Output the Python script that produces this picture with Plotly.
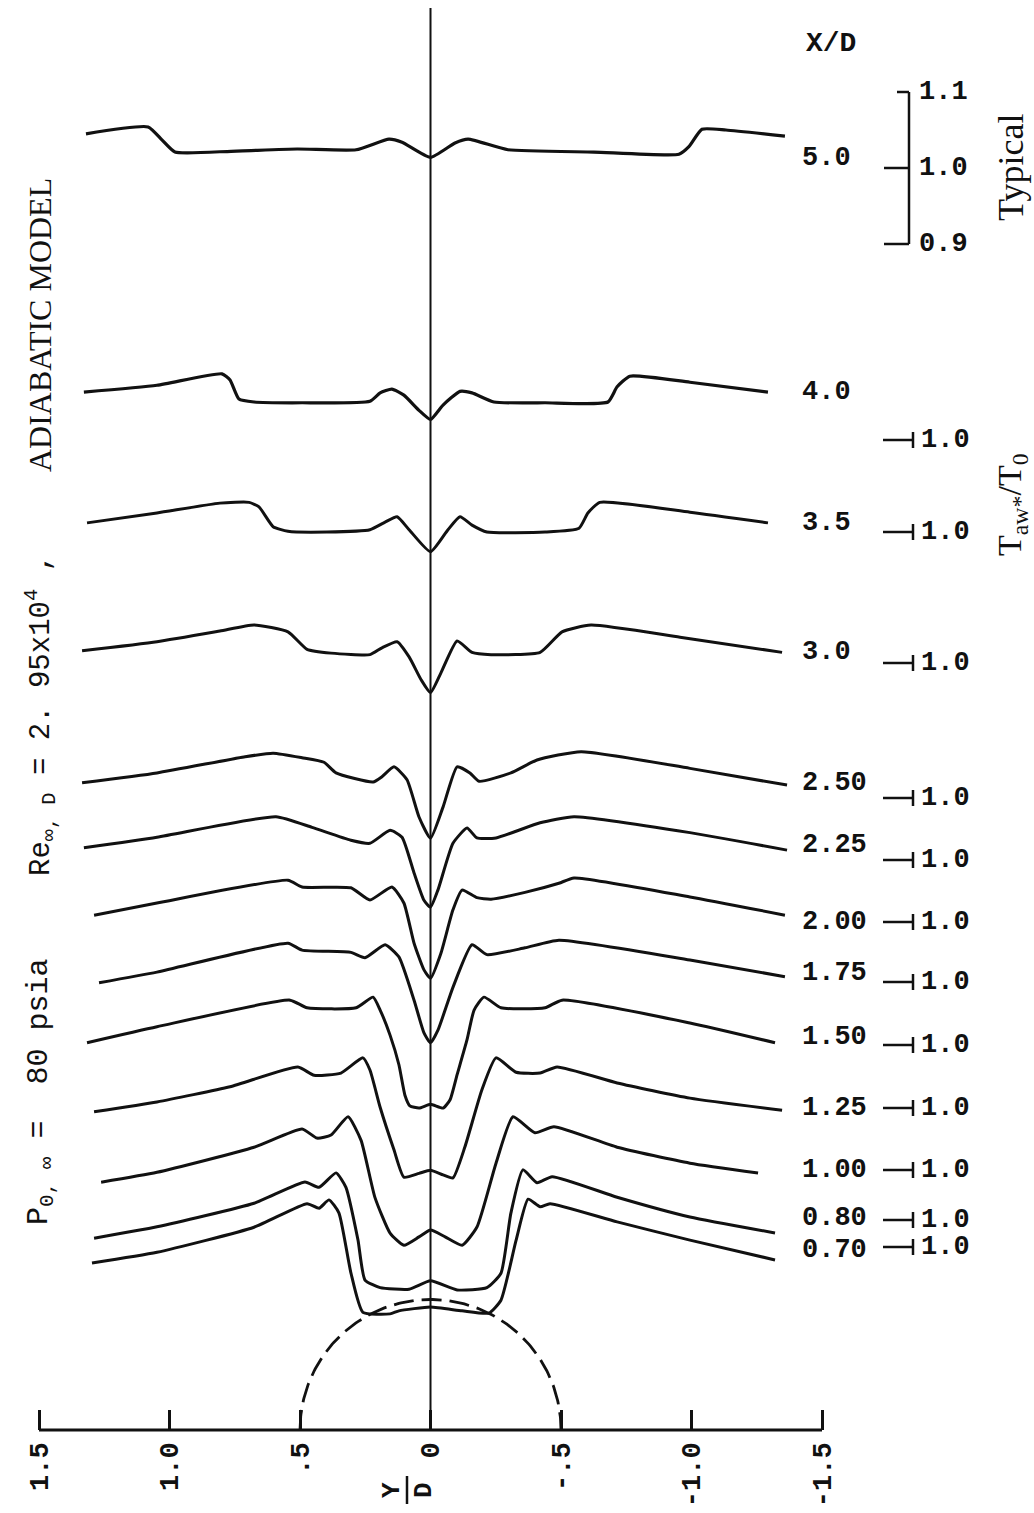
import numpy as np
import plotly.graph_objects as go

# ---------------- data ----------------
stations = ["5.0", "4.0", "3.5", "3.0", "2.50", "2.25", "2.00", "1.75", "1.50", "1.25", "1.00", "0.80", "0.70"]

yd_500 = [1.320, 1.082, 1.029, 0.979, 0.764, 0.511, 0.285, 0.159, 0.109, 0.0, -0.094, -0.144, -0.297, -0.626, -0.952, -0.990, -1.040, -1.132, -1.358]
t_500 = [1.045, 1.054, 1.037, 1.021, 1.022, 1.025, 1.024, 1.038, 1.034, 1.014, 1.033, 1.038, 1.024, 1.021, 1.018, 1.028, 1.051, 1.050, 1.042]

yd_400 = [1.328, 1.048, 0.799, 0.768, 0.734, 0.676, 0.492, 0.232, 0.193, 0.148, 0.102, 0.044, 0.0, -0.048, -0.113, -0.159, -0.243, -0.439, -0.680, -0.715, -0.764, -0.994, -1.293]
t_400 = [1.063, 1.072, 1.087, 1.079, 1.054, 1.050, 1.049, 1.051, 1.062, 1.067, 1.059, 1.039, 1.027, 1.046, 1.064, 1.062, 1.050, 1.049, 1.050, 1.070, 1.084, 1.076, 1.063]

yd_350 = [1.316, 1.048, 0.807, 0.695, 0.657, 0.603, 0.546, 0.397, 0.232, 0.174, 0.128, 0.082, 0.0, -0.067, -0.113, -0.159, -0.216, -0.439, -0.569, -0.603, -0.649, -0.994, -1.293]
t_350 = [1.012, 1.025, 1.038, 1.039, 1.033, 1.007, 1.001, 1.000, 1.003, 1.013, 1.020, 1.003, 0.974, 1.003, 1.020, 1.009, 1.000, 1.000, 1.005, 1.025, 1.039, 1.026, 1.012]

yd_300 = [1.335, 1.048, 0.807, 0.676, 0.546, 0.473, 0.381, 0.232, 0.186, 0.128, 0.082, 0.036, 0.0, -0.040, -0.102, -0.159, -0.232, -0.420, -0.504, -0.615, -0.956, -1.347]
t_300 = [1.016, 1.028, 1.042, 1.050, 1.041, 1.018, 1.013, 1.011, 1.020, 1.028, 1.008, 0.978, 0.961, 0.987, 1.029, 1.014, 1.011, 1.014, 1.041, 1.050, 1.034, 1.014]

yd_250 = [1.335, 1.048, 0.715, 0.603, 0.492, 0.408, 0.362, 0.220, 0.186, 0.140, 0.090, 0.044, 0.0, -0.048, -0.102, -0.151, -0.186, -0.308, -0.408, -0.577, -0.994, -1.366]
t_250 = [1.020, 1.033, 1.054, 1.059, 1.053, 1.047, 1.033, 1.021, 1.028, 1.041, 1.024, 0.975, 0.947, 0.988, 1.041, 1.033, 1.022, 1.033, 1.050, 1.061, 1.039, 1.017]

yd_225 = [1.328, 1.048, 0.592, 0.454, 0.305, 0.232, 0.155, 0.109, 0.063, 0.025, 0.0, -0.029, -0.086, -0.140, -0.178, -0.251, -0.420, -0.550, -0.994, -1.366]
t_225 = [1.016, 1.030, 1.057, 1.043, 1.026, 1.022, 1.039, 1.030, 0.983, 0.947, 0.938, 0.961, 1.022, 1.042, 1.029, 1.029, 1.049, 1.057, 1.036, 1.013]

yd_200 = [1.289, 1.048, 0.546, 0.492, 0.305, 0.232, 0.148, 0.102, 0.063, 0.025, 0.0, -0.040, -0.086, -0.121, -0.178, -0.232, -0.362, -0.492, -0.550, -0.994, -1.358]
t_200 = [1.009, 1.025, 1.055, 1.046, 1.045, 1.029, 1.046, 1.025, 0.972, 0.937, 0.926, 0.959, 1.016, 1.042, 1.032, 1.030, 1.039, 1.051, 1.058, 1.033, 1.009]

yd_175 = [1.270, 1.048, 0.546, 0.492, 0.305, 0.251, 0.174, 0.121, 0.063, 0.025, 0.0, -0.029, -0.086, -0.159, -0.216, -0.362, -0.492, -0.994, -1.358]
t_175 = [0.999, 1.013, 1.051, 1.042, 1.039, 1.032, 1.049, 1.033, 0.976, 0.933, 0.920, 0.937, 0.993, 1.049, 1.036, 1.045, 1.055, 1.029, 1.007]

yd_150 = [1.316, 1.048, 0.538, 0.473, 0.285, 0.220, 0.193, 0.155, 0.121, 0.098, 0.079, 0.044, 0.0, -0.048, -0.075, -0.102, -0.140, -0.167, -0.205, -0.270, -0.439, -0.504, -0.994, -1.320]
t_150 = [1.003, 1.024, 1.059, 1.049, 1.049, 1.063, 1.046, 1.013, 0.974, 0.934, 0.920, 0.917, 0.922, 0.917, 0.928, 0.961, 1.007, 1.046, 1.063, 1.049, 1.049, 1.059, 1.029, 1.003]

yd_125 = [1.289, 1.048, 0.768, 0.508, 0.446, 0.343, 0.259, 0.232, 0.193, 0.140, 0.102, 0.044, 0.0, -0.048, -0.086, -0.132, -0.197, -0.251, -0.328, -0.420, -0.485, -0.715, -0.994, -1.347]
t_125 = [0.995, 1.008, 1.028, 1.054, 1.043, 1.046, 1.066, 1.050, 1.001, 0.945, 0.909, 0.914, 0.918, 0.912, 0.908, 0.949, 1.024, 1.066, 1.047, 1.046, 1.054, 1.033, 1.013, 0.997]

yd_100 = [1.262, 1.048, 0.676, 0.492, 0.435, 0.381, 0.316, 0.266, 0.213, 0.155, 0.102, 0.044, 0.0, -0.056, -0.121, -0.178, -0.251, -0.316, -0.400, -0.473, -0.715, -0.994, -1.255]
t_100 = [0.984, 0.997, 1.030, 1.054, 1.042, 1.046, 1.070, 1.039, 0.964, 0.917, 0.901, 0.912, 0.921, 0.912, 0.901, 0.925, 1.009, 1.070, 1.049, 1.057, 1.030, 1.009, 0.996]

yd_080 = [1.289, 1.048, 0.676, 0.481, 0.427, 0.362, 0.324, 0.278, 0.251, 0.193, 0.082, 0.0, -0.102, -0.216, -0.270, -0.308, -0.354, -0.408, -0.466, -0.715, -0.994, -1.320]
t_080 = [0.976, 0.991, 1.022, 1.050, 1.043, 1.062, 1.043, 0.974, 0.921, 0.911, 0.909, 0.920, 0.908, 0.911, 0.930, 1.009, 1.066, 1.049, 1.057, 1.030, 1.004, 0.983]

yd_070 = [1.297, 1.048, 0.676, 0.473, 0.427, 0.389, 0.351, 0.305, 0.259, 0.155, 0.121, 0.0, -0.121, -0.224, -0.270, -0.328, -0.374, -0.420, -0.458, -0.715, -0.994, -1.320]
t_070 = [0.979, 0.993, 1.026, 1.057, 1.051, 1.062, 1.045, 0.966, 0.914, 0.912, 0.916, 0.921, 0.916, 0.913, 0.930, 1.009, 1.063, 1.053, 1.057, 1.033, 1.009, 0.983]

profiles_yd = [yd_500, yd_400, yd_350, yd_300, yd_250, yd_225, yd_200, yd_175, yd_150, yd_125, yd_100, yd_080, yd_070]
profiles_t = [t_500, t_400, t_350, t_300, t_250, t_225, t_200, t_175, t_150, t_125, t_100, t_080, t_070]

yd_ticks = [1.5, 1.0, 0.5, 0.0, -0.5, -1.0, -1.5]
yd_ticktext = ["1.5", "1.0", ".5", "0", "-.5", "-1.0", "-1.5"]
typical_scale = [1.1, 1.0, 0.9]

# ---------------- layout geometry (page pixels) ----------------
W, H = 1034, 1513
PX_PER_UNIT = 760.0        # vertical px per 1.0 of Taw*/T0
X0_PX, PX_PER_YD = 430.5, 261.0
level_px = [168, 440, 532, 663, 798, 860, 922, 982, 1045, 1108, 1170, 1220, 1247]   # where 1.0 sits
label_px = [158, 392, 523, 652, 783, 845, 922, 973, 1037, 1108, 1170, 1218, 1250]
AXIS_PX = 1430

def xd(px):
    return (X0_PX - px) / PX_PER_YD

def yd(py):
    return (H - py) / PX_PER_UNIT

offsets = [yd(p) - 1.0 for p in level_px]
MONO = "Liberation Mono"
SERIF = "Liberation Serif"
INK = "#111111"
NB = "\u00a0"

fig = go.Figure()

# profiles
for k in range(len(stations)):
    fig.add_trace(go.Scatter(
        x=profiles_yd[k], y=np.array(profiles_t[k]) + offsets[k],
        mode="lines", line=dict(color=INK, width=3.2 if k < 2 else 3.0, shape="spline", smoothing=0.5),
        hoverinfo="skip", showlegend=False))

# centre line
fig.add_trace(go.Scatter(x=[0, 0], y=[yd(8), yd(AXIS_PX)], mode="lines",
                         line=dict(color=INK, width=2), showlegend=False, hoverinfo="skip"))
# base axis line
fig.add_trace(go.Scatter(x=[yd_ticks[0], yd_ticks[-1]], y=[yd(AXIS_PX)] * 2, mode="lines",
                         line=dict(color=INK, width=3), showlegend=False, hoverinfo="skip"))
# cylinder outline (radius 0.5 D)
th = np.linspace(0, np.pi, 181)
ry = 0.5 * PX_PER_YD / PX_PER_UNIT
fig.add_trace(go.Scatter(x=0.5 * np.cos(th), y=yd(AXIS_PX) + ry * np.sin(th), mode="lines",
                         line=dict(color=INK, width=2.8, dash="20px,8px"),
                         showlegend=False, hoverinfo="skip"))

shapes = []
annotations = []

def seg(x0, y0, x1, y1, w=2.5):
    shapes.append(dict(type="line", xref="x", yref="y", x0=x0, y0=y0, x1=x1, y1=y1,
                       line=dict(color=INK, width=w)))

def text(s, px, py, size=27, font=MONO, angle=0, xanchor="left", yanchor="middle", weight="bold"):
    annotations.append(dict(text=s, x=xd(px), y=yd(py), xref="x", yref="y", showarrow=False,
                            textangle=angle, xanchor=xanchor, yanchor=yanchor,
                            font=dict(family=font, size=size, color=INK, weight=weight)))

# station labels
for k, s in enumerate(stations):
    text(s, 800, label_px[k])

# typical scale bracket for X/D = 5.0
bx = xd(909)
seg(bx, offsets[0] + typical_scale[0], bx, offsets[0] + typical_scale[2])
seg(xd(897), offsets[0] + typical_scale[0], bx, offsets[0] + typical_scale[0])
seg(xd(884), offsets[0] + typical_scale[1], bx, offsets[0] + typical_scale[1])
seg(xd(884), offsets[0] + typical_scale[2], bx, offsets[0] + typical_scale[2])
for v in typical_scale:
    annotations.append(dict(text=f"{v:.1f}", x=xd(917), y=offsets[0] + v, xref="x", yref="y",
                            showarrow=False, xanchor="left", yanchor="middle",
                            font=dict(family=MONO, size=27, color=INK, weight="bold")))

# 1.0 reference marks for the other stations
for k in range(1, len(stations)):
    lv = offsets[k] + 1.0
    seg(xd(883), lv, xd(913), lv)
    seg(xd(913), lv - 8 / PX_PER_UNIT, xd(913), lv + 8 / PX_PER_UNIT)
    annotations.append(dict(text="1.0", x=xd(919), y=lv, xref="x", yref="y", showarrow=False,
                            xanchor="left", yanchor="middle",
                            font=dict(family=MONO, size=27, color=INK, weight="bold")))

# headings / side texts
text("X/D", 831, 43, size=28, xanchor="center")
text("Typical", 1011, 168, size=36, font=SERIF, angle=-90, xanchor="center", weight="normal")
text("T<sub>aw*</sub>/T<sub>0</sub>", 1012, 505, size=34, font=SERIF, angle=-90, xanchor="center", weight="normal")
text("ADIABATIC MODEL", 40, 325, size=32, font=SERIF, angle=-90, xanchor="center", weight="normal")
text("Re<sub>\u221e, D</sub> = 2. 95x10<sup>4</sup> ,", 40, 715, size=29, font=MONO, angle=-90, xanchor="center", weight="normal")
text("P<sub>0, \u221e</sub>" + NB + "=" + NB * 2 + "80 psia", 40, 1092, size=30, font=MONO, angle=-90, xanchor="center", weight="normal")

# Y/D axis title as a rotated fraction
text("Y", 392, 1490, size=26, angle=-90, xanchor="center")
text("D", 424, 1490, size=26, angle=-90, xanchor="center")
seg(xd(407), yd(1476), xd(407), yd(1504), w=2.5)

fig.update_layout(
    width=W, height=H, margin=dict(l=0, r=0, t=0, b=0),
    paper_bgcolor="white", plot_bgcolor="white",
    shapes=shapes, annotations=annotations, showlegend=False,
    xaxis=dict(range=[xd(0), xd(W)], showgrid=False, zeroline=False, showline=False,
               tickmode="array", tickvals=yd_ticks, ticktext=yd_ticktext,
               ticks="inside", ticklen=20, tickwidth=2.5, tickcolor=INK,
               tickangle=-90, tickfont=dict(family=MONO, size=27, color=INK, weight="bold"),
               anchor="free", position=(H - AXIS_PX) / H, ticklabelstandoff=6),
    yaxis=dict(range=[0, H / PX_PER_UNIT], visible=False, showgrid=False, zeroline=False),
)

fig.write_html("out.html", config={"displayModeBar": False},
               post_script="document.body.style.margin='0';")
